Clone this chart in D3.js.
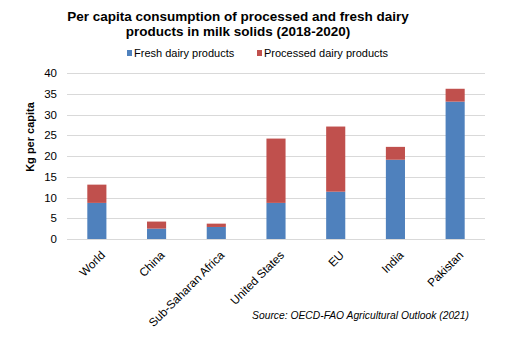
<!DOCTYPE html>
<html>
<head>
<meta charset="utf-8">
<script src="https://cdn.jsdelivr.net/npm/d3@7"></script>
<style>
  body { margin: 0; background: #fff; }
  text { font-family: "Liberation Sans", Arial, sans-serif; fill: #000; }
</style>
</head>
<body>
<svg id="chart" width="513" height="349"></svg>
<script>
// chart data
var regions = ["World", "China", "Sub-Saharan Africa", "United States", "EU", "India", "Pakistan"];
var fresh = [8.7, 2.5, 2.9, 8.7, 11.4, 19.1, 33.1];
var processed = [4.4, 1.7, 0.8, 15.5, 15.7, 3.1, 3.1];
var yTicks = [0, 5, 10, 15, 20, 25, 30, 35, 40];
var seriesNames = ["Fresh dairy products", "Processed dairy products"];
var colors = ["#4F81BD", "#C0504D"];

var svg = d3.select("#chart");
var plotLeft = 67, plotRight = 485, plotTop = 73, plotBottom = 239;

var x = d3.scaleBand().domain(regions).range([plotLeft, plotRight]).paddingInner(0.68).paddingOuter(0.34);
var y = d3.scaleLinear().domain([0, 40]).range([plotBottom, plotTop]);

// gridlines
svg.append("g").selectAll("line")
    .data(yTicks)
    .enter().append("line")
    .attr("x1", plotLeft).attr("x2", plotRight)
    .attr("y1", function(d) { return Math.round(y(d)) + 0.5; })
    .attr("y2", function(d) { return Math.round(y(d)) + 0.5; })
    .attr("stroke", "#d9d9d9").attr("stroke-width", 1);

// y axis labels
var yAxis = d3.axisLeft(y).tickValues(yTicks).tickSize(0).tickPadding(0);
svg.append("g")
    .attr("transform", "translate(57,0)")
    .call(yAxis)
    .call(function(g) { g.select(".domain").remove(); })
    .selectAll("text")
    .style("font-size", "11.5px")
    .style("font-family", "Liberation Sans, Arial, sans-serif");

// stacked bars
var rows = regions.map(function(r, i) { return { region: r, fresh: fresh[i], processed: processed[i] }; });
var stack = d3.stack().keys(["fresh", "processed"])(rows);

svg.append("g").selectAll("g")
    .data(stack)
    .enter().append("g")
    .attr("fill", function(d, i) { return colors[i]; })
    .selectAll("rect")
    .data(function(d) { return d; })
    .enter().append("rect")
    .attr("x", function(d) { return x(d.data.region); })
    .attr("width", x.bandwidth())
    .attr("y", function(d) { return y(d[1]); })
    .attr("height", function(d) { return y(d[0]) - y(d[1]); });

// x labels, rotated 45 degrees
var xAxis = d3.axisBottom(x).tickSize(0).tickPadding(0);
svg.append("g")
    .attr("transform", "translate(0,253)")
    .call(xAxis)
    .call(function(g) { g.select(".domain").remove(); })
    .selectAll("text")
    .style("font-size", "11.7px")
    .style("font-family", "Liberation Sans, Arial, sans-serif")
    .attr("text-anchor", "end")
    .attr("y", 0)
    .attr("dy", "0.35em")
    .attr("transform", "translate(6,0) rotate(-45)");

// y title
svg.append("text")
    .attr("transform", "translate(34,137) rotate(-90)")
    .attr("text-anchor", "middle")
    .style("font-size", "11px")
    .style("font-weight", "bold")
    .text("Kg per capita");

// title
var title = svg.append("text")
    .attr("text-anchor", "middle")
    .style("font-size", "13.5px")
    .style("font-weight", "bold");
title.append("tspan").attr("x", 238).attr("y", 21).text("Per capita consumption of processed and fresh dairy");
title.append("tspan").attr("x", 238).attr("y", 36).text("products in milk solids (2018-2020)");

// legend
var legendX = [127, 257];
var legend = svg.append("g").selectAll("g")
    .data(seriesNames)
    .enter().append("g")
    .attr("transform", function(d, i) { return "translate(" + legendX[i] + ",53)"; });
legend.append("rect")
    .attr("x", 0).attr("y", -3).attr("width", 5).attr("height", 6)
    .attr("fill", function(d, i) { return colors[i]; });
legend.append("text")
    .attr("x", 7).attr("y", 4)
    .style("font-size", "11px")
    .text(function(d) { return d; });

// source
svg.append("text")
    .attr("x", 469).attr("y", 319)
    .attr("text-anchor", "end")
    .style("font-size", "10.3px")
    .style("font-style", "italic")
    .text("Source: OECD-FAO Agricultural Outlook (2021)");
</script>
</body>
</html>
